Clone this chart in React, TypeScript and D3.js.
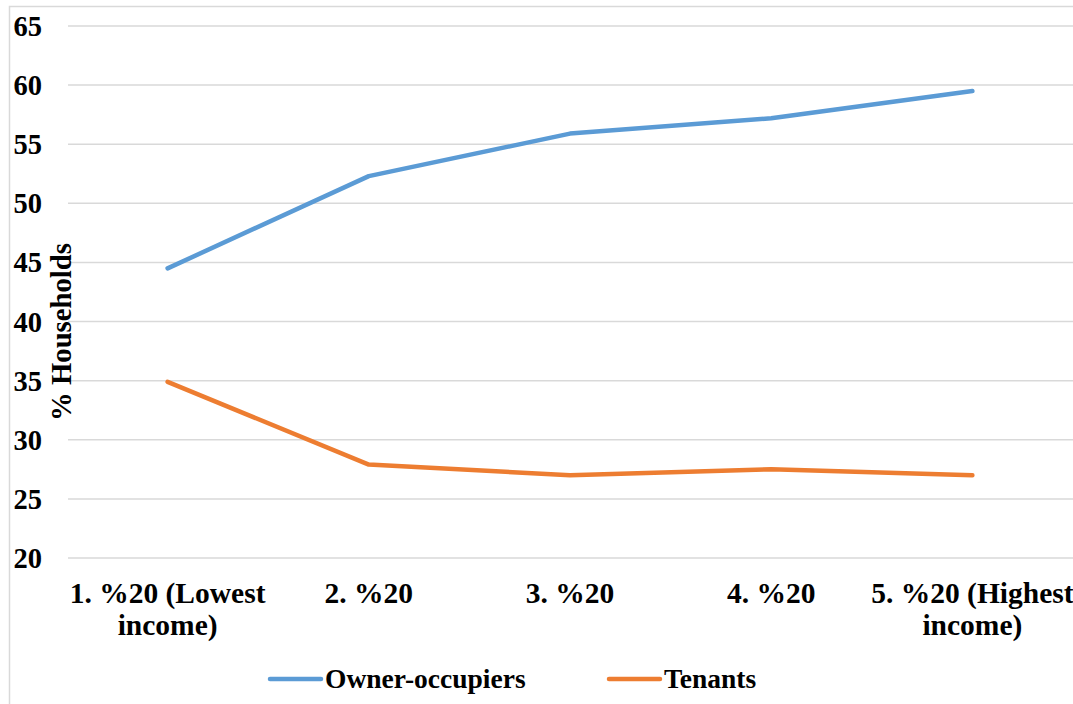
import React from "react";
import * as d3 from "d3";

const categories = ["1. %20 (Lowest income)", "2. %20", "3. %20", "4. %20", "5. %20 (Highest income)"];
const categoryLines = [["1. %20 (Lowest", "income)"], ["2. %20"], ["3. %20"], ["4. %20"], ["5. %20 (Highest", "income)"]];
const ownerOccupiers = [44.5, 52.3, 55.9, 57.2, 59.5];
const tenants = [34.9, 27.9, 27.0, 27.5, 27.0];
const yTicks = [20, 25, 30, 35, 40, 45, 50, 55, 60, 65];
const seriesNames = ["Owner-occupiers", "Tenants"];
const seriesColors = ["#5B9BD5", "#ED7D31"];

const W = 1073;
const H = 704;
const FONT = "'Liberation Serif', 'Times New Roman', serif";

export default function App() {
  const x = d3.scaleBand<string>().domain(categories).range([67, 1073]).padding(0);
  const y = d3.scaleLinear().domain([20, 65]).range([558, 26]);
  const cx = (c: string) => (x(c) as number) + x.bandwidth() / 2;
  const line = d3
    .line<number>()
    .x((_, i) => cx(categories[i]))
    .y((d) => y(d));
  const series = [ownerOccupiers, tenants];

  return (
    <svg width={W} height={H} style={{ position: "absolute", left: 0, top: 0, background: "#fff" }} fontFamily={FONT} fontWeight="bold">
      <rect x={9.5} y={6.5} width={1070} height={720} fill="#fff" stroke="#d9d9d9" strokeWidth={1.5} />
      {yTicks.map((t) => (
        <g key={t}>
          <line x1={68} x2={1073} y1={y(t)} y2={y(t)} stroke="#d9d9d9" strokeWidth={1.5} />
          <text x={42} y={y(t)} dy="0.35em" textAnchor="end" fontSize={28.5} fill="#000">
            {t}
          </text>
        </g>
      ))}
      <text transform={`translate(71,${332}) rotate(-90)`} textAnchor="middle" fontSize={28.7} fill="#000">
        % Households
      </text>
      {categories.map((c, i) => (
        <text key={c} x={cx(c)} y={603} textAnchor="middle" fontSize={29.5} fill="#000">
          {categoryLines[i].map((l, j) => (
            <tspan key={j} x={cx(c)} dy={j === 0 ? 0 : 32}>
              {l}
            </tspan>
          ))}
        </text>
      ))}
      {series.map((s, i) => (
        <path key={i} d={line(s) || ""} fill="none" stroke={seriesColors[i]} strokeWidth={4.5} strokeLinejoin="round" strokeLinecap="round" />
      ))}
      {seriesNames.map((n, i) => {
        const lx = i === 0 ? 270 : 609;
        return (
          <g key={n}>
            <line x1={lx} x2={lx + 51} y1={679} y2={679} stroke={seriesColors[i]} strokeWidth={4.5} strokeLinecap="round" />
            <text x={lx + 55} y={688} fontSize={27.5} fill="#000">
              {n}
            </text>
          </g>
        );
      })}
    </svg>
  );
}
